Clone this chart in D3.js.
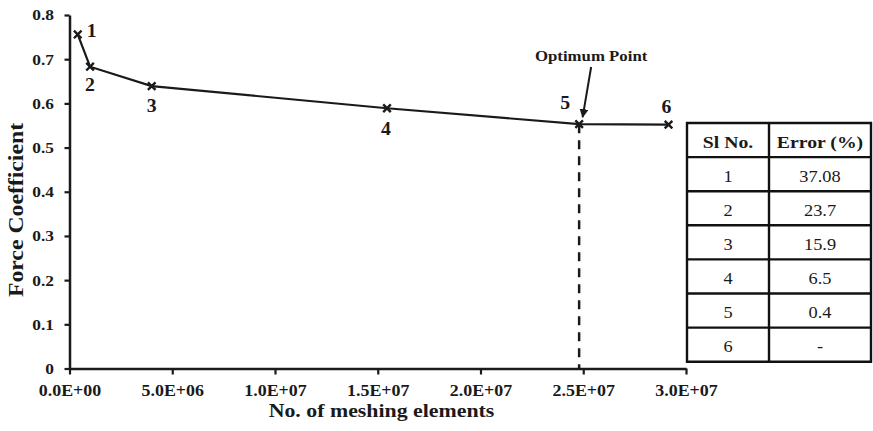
<!DOCTYPE html>
<html><head><meta charset="utf-8">
<script src="https://cdn.jsdelivr.net/npm/d3@7"></script>
<style>body{margin:0;background:#fff}svg{display:block}</style>
</head><body>
<svg id="c" width="873" height="431"></svg>
<script>
const meshElements = [0.4e6, 1.0e6, 4.0e6, 15.45e6, 24.8e6, 29.15e6];
const forceCoeff = [0.756, 0.683, 0.639, 0.589, 0.553, 0.552];
const pointLabels = ["1","2","3","4","5","6"];
const xTicks = [0, 5e6, 1e7, 1.5e7, 2e7, 2.5e7, 3e7];
const xTickLabels = ["0.0E+00","5.0E+06","1.0E+07","1.5E+07","2.0E+07","2.5E+07","3.0E+07"];
const yTicks = [0, 0.1, 0.2, 0.3, 0.4, 0.5, 0.6, 0.7, 0.8];
const yTickLabels = ["0","0.1","0.2","0.3","0.4","0.5","0.6","0.7","0.8"];
const tableHeader = ["Sl No.", "Error (%)"];
const slNo = ["1","2","3","4","5","6"];
const errorPct = ["37.08","23.7","15.9","6.5","0.4","-"];
const optimumIndex = 4;

const FONT = "Liberation Serif";
const INK = "#1a1a1a";
const SX = 1.12; // horizontal stretch of the reference lettering
const svg = d3.select("#c");
const x = d3.scaleLinear().domain([0, 3e7]).range([69.5, 686]);
const y = d3.scaleLinear().domain([0, 0.8]).range([368.5, 15]);

function label(parent, px, py, str, opt) {
  const o = Object.assign({size:16, weight:"bold", sx:SX, sy:1, anchor:"middle", rot:0}, opt||{});
  return parent.append("text")
    .attr("transform", `translate(${px},${py}) rotate(${o.rot}) scale(${o.sx},${o.sy})`)
    .attr("text-anchor", o.anchor)
    .attr("font-family", FONT).attr("font-weight", o.weight)
    .attr("font-size", o.size).attr("fill", INK).text(str);
}

// axes
const xAxis = d3.axisBottom(x).tickValues(xTicks).tickSize(6).tickSizeOuter(0)
  .tickFormat((d,i)=>xTickLabels[i]);
const gx = svg.append("g").attr("transform", `translate(0,${y(0)})`).call(xAxis);
gx.attr("font-family",FONT);
gx.select(".domain").attr("stroke",INK).attr("stroke-width",2.5);
gx.selectAll(".tick line").attr("stroke",INK).attr("stroke-width",2.2);
gx.selectAll(".tick text").attr("font-family",FONT).attr("font-weight","bold")
  .attr("font-size",16).attr("fill",INK).attr("y",27.5).attr("dy",0)
  .attr("transform",`scale(${SX},1)`);

const yAxis = d3.axisLeft(y).tickValues(yTicks).tickSize(5).tickSizeOuter(0)
  .tickFormat((d,i)=>yTickLabels[i]);
const gy = svg.append("g").attr("transform", `translate(${x(0)},0)`).call(yAxis);
gy.attr("font-family",FONT);
gy.select(".domain").attr("stroke",INK).attr("stroke-width",2.5);
gy.selectAll(".tick line").attr("stroke",INK).attr("stroke-width",2.2);
gy.selectAll(".tick text").attr("font-family",FONT).attr("font-weight","bold")
  .attr("font-size",15.5).attr("fill",INK).attr("x",-15.5/SX)
  .attr("transform",`scale(${SX},1)`);

// axis titles
label(svg, 381.5, 417, "No. of meshing elements", {size:19, sx:1.15});
label(svg, 23, 210, "Force Coefficient", {size:19, rot:-90, sx:1.25, sy:1.05});

// dashed line at optimum
svg.append("line")
  .attr("x1",x(meshElements[optimumIndex])).attr("x2",x(meshElements[optimumIndex]))
  .attr("y1",y(forceCoeff[optimumIndex])).attr("y2",y(0))
  .attr("stroke",INK).attr("stroke-width",2.5).attr("stroke-dasharray","9,7");

// line
const data = meshElements.map((m,i)=>({x:m, y:forceCoeff[i], l:pointLabels[i]}));
svg.append("path").datum(data)
  .attr("d", d3.line().x(d=>x(d.x)).y(d=>y(d.y)))
  .attr("fill","none").attr("stroke",INK).attr("stroke-width",2.2);

// markers
const s = 3.8;
svg.selectAll(".mk").data(data).enter().append("path")
  .attr("d", d=>{const cx=x(d.x), cy=y(d.y);
    return `M${cx-s},${cy-s}L${cx+s},${cy+s}M${cx-s},${cy+s}L${cx+s},${cy-s}`;})
  .attr("stroke",INK).attr("stroke-width",2.4);

// point labels (offset of label centre from the point)
const labelOffsets = [[14,-4],[0,18],[0,20],[-1,21],[-14,-21],[-2,-18]];
data.forEach((d,i)=>{
  label(svg, x(d.x)+labelOffsets[i][0], y(d.y)+labelOffsets[i][1]+6.2, d.l, {size:18, sx:1.1});
});

// optimum annotation
const ox = x(meshElements[optimumIndex]), oy = y(forceCoeff[optimumIndex]);
label(svg, ox+12, 61, "Optimum Point", {size:15, sx:1.12});
svg.append("defs").append("marker").attr("id","ah").attr("viewBox","0 0 10 10")
  .attr("refX",9).attr("refY",5).attr("markerWidth",4.5).attr("markerHeight",4.5).attr("orient","auto")
  .append("path").attr("d","M0,0L10,5L0,10z").attr("fill",INK);
svg.append("line").attr("x1",ox+12).attr("y1",67).attr("x2",ox+3.5).attr("y2",oy-7)
  .attr("stroke",INK).attr("stroke-width",2).attr("marker-end","url(#ah)");

// table
const tx0 = 687, tx1 = 769, tx2 = 871, ty0 = 123, rowH = 34.1;
const rows = [tableHeader].concat(slNo.map((s,i)=>[s, errorPct[i]]));
const tg = svg.append("g");
rows.forEach((r,i)=>{
  const yy = ty0 + i*rowH;
  [[tx0,tx1],[tx1,tx2]].forEach((c,j)=>{
    label(tg, (c[0]+c[1])/2, yy+rowH/2+7.5, r[j],
      {size:17, weight: i===0?"bold":"normal", sx: i===0?1.16:1.08});
  });
});
for (let i=0;i<=rows.length;i++){
  tg.append("line").attr("x1",tx0-1).attr("x2",tx2+1).attr("y1",ty0+i*rowH).attr("y2",ty0+i*rowH)
    .attr("stroke","#111").attr("stroke-width",2.4);
}
[tx0,tx1,tx2].forEach(xx=>tg.append("line").attr("x1",xx).attr("x2",xx)
  .attr("y1",ty0-1).attr("y2",ty0+rows.length*rowH+1).attr("stroke","#111").attr("stroke-width",2.4));
</script>
</body></html>
